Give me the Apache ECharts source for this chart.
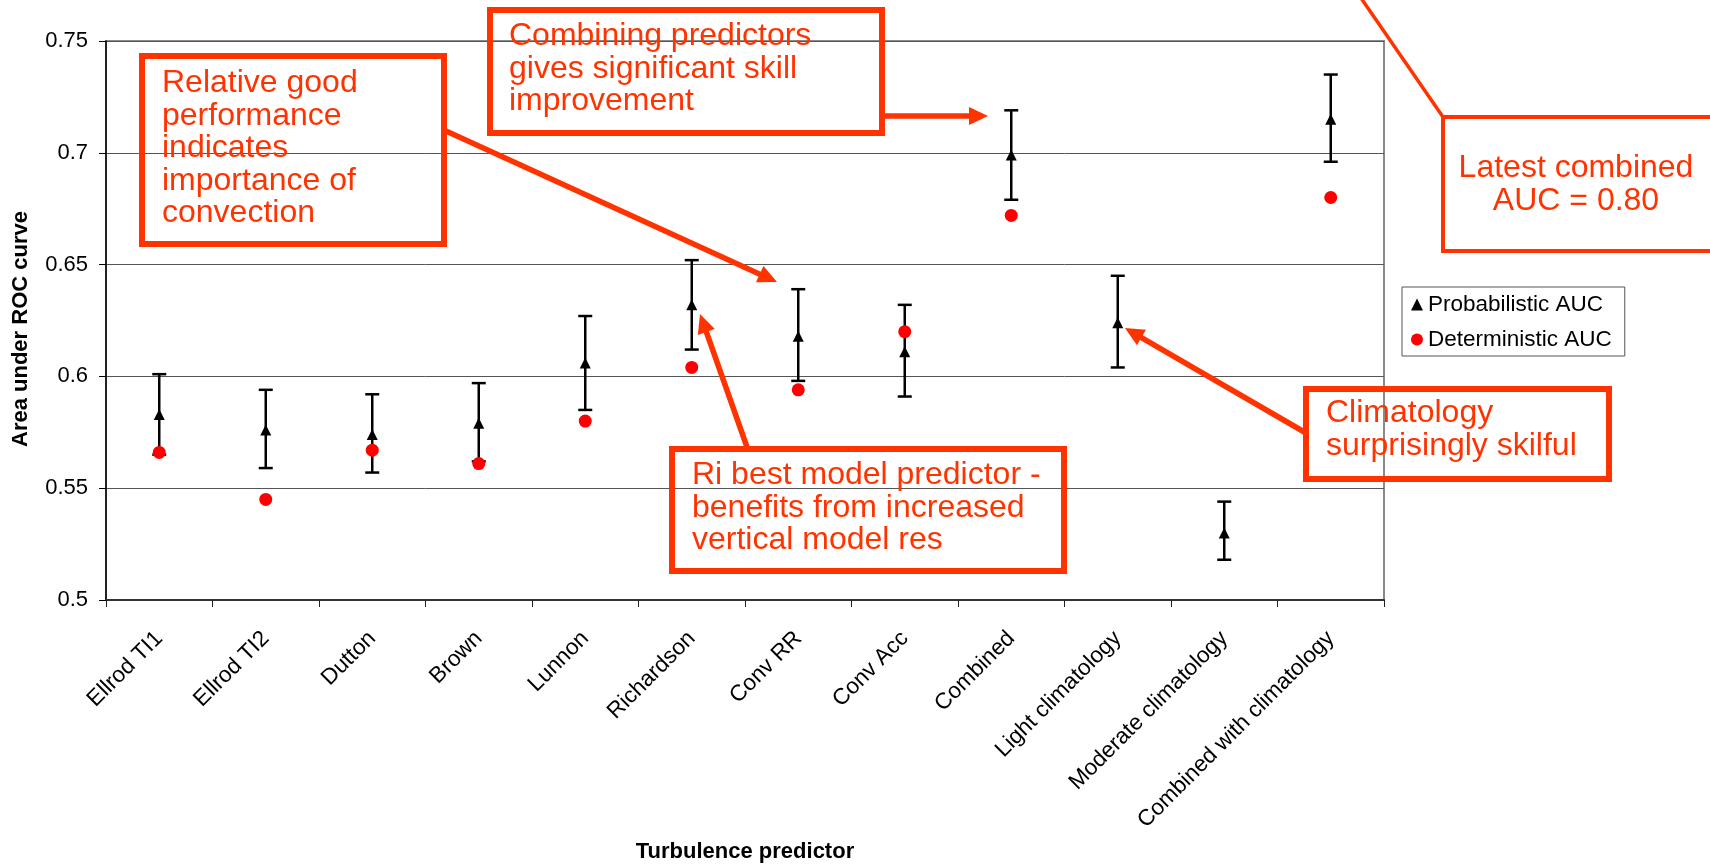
<!DOCTYPE html>
<html>
<head>
<meta charset="utf-8">
<script src="https://cdn.jsdelivr.net/npm/echarts@6/dist/echarts.min.js"></script>
<style>
html,body{margin:0;padding:0;background:#fff;}
#chart{width:1710px;height:865px;}
</style>
</head>
<body>
<div id="chart"></div>
<script>
// ---- data ----
const categories = ['Ellrod TI1','Ellrod TI2','Dutton','Brown','Lunnon','Richardson','Conv RR','Conv Acc','Combined','Light climatology','Moderate climatology','Combined with climatology'];
const probAUC  = [0.583, 0.576, 0.574, 0.579, 0.606, 0.632, 0.618, 0.611, 0.699, 0.624, 0.530, 0.715];
const probLow  = [0.565, 0.559, 0.557, 0.562, 0.585, 0.612, 0.598, 0.591, 0.679, 0.604, 0.518, 0.696];
const probHigh = [0.601, 0.594, 0.592, 0.597, 0.627, 0.652, 0.639, 0.632, 0.719, 0.645, 0.544, 0.735];
const detAUC   = [0.566, 0.545, 0.567, 0.561, 0.580, 0.604, 0.594, 0.620, 0.672, null, null, 0.680];
const yTicks = {min: 0.5, max: 0.75, step: 0.05};

const FONT = '"Liberation Sans", Arial, Helvetica, sans-serif';
const ANN = '#FF3300';

function arrow(x1, y1, x2, y2) {
  const w = 5.5, headLen = 19, headHalf = 9;
  const dx = x2 - x1, dy = y2 - y1, L = Math.hypot(dx, dy);
  const ux = dx / L, uy = dy / L, px = -uy, py = ux;
  const bx = x2 - ux * headLen, by = y2 - uy * headLen;
  return [
    {type: 'line', z: 100, shape: {x1: x1, y1: y1, x2: bx + ux * 2, y2: by + uy * 2}, style: {stroke: ANN, lineWidth: w}},
    {type: 'polygon', z: 100, shape: {points: [[x2, y2], [bx + px * headHalf, by + py * headHalf], [bx - px * headHalf, by - py * headHalf]]}, style: {fill: ANN}}
  ];
}
function box(x, y, w, h, lw) {
  return {type: 'rect', z: 100, shape: {x: x, y: y, width: w, height: h}, style: {fill: 'none', stroke: ANN, lineWidth: lw}};
}
function label(x, y, text, align) {
  return {type: 'text', z: 101, x: x, y: y, style: {text: text, fill: ANN, fontSize: 32, fontFamily: FONT, lineHeight: 32.5, align: align || 'left', verticalAlign: 'top'}};
}

const chart = echarts.init(document.getElementById('chart'), null, {renderer: 'canvas'});
const option = {
  animation: false,
  backgroundColor: '#fff',
  textStyle: {fontFamily: FONT},
  grid: {left: 106, right: 326, top: 41, bottom: 265, show: true, borderColor: '#8a8a8a', borderWidth: 2, containLabel: false, outerBoundsMode: 'none'},
  legend: {
    orient: 'vertical', left: 1402, top: 287,
    padding: [6, 13, 5, 9], itemGap: 12, itemWidth: 12, itemHeight: 12,
    borderColor: '#555', borderWidth: 1, backgroundColor: '#fff',
    textStyle: {fontSize: 22.5, color: '#000', fontFamily: FONT},
    data: ['Probabilistic AUC', 'Deterministic AUC']
  },
  xAxis: {
    type: 'category', data: categories, boundaryGap: true,
    axisLine: {lineStyle: {color: '#333', width: 2}},
    axisTick: {show: true, length: 7, alignWithLabel: false, lineStyle: {color: '#222', width: 1}},
    axisLabel: {interval: 0, rotate: 45, margin: 35, fontSize: 22.5, color: '#000', fontFamily: FONT, hideOverlap: false},
    splitLine: {show: false}
  },
  yAxis: {
    type: 'value', min: yTicks.min, max: yTicks.max, interval: yTicks.step,
    axisLine: {show: true, lineStyle: {color: '#000', width: 1.5}},
    axisTick: {show: true, length: 7, lineStyle: {color: '#000', width: 1}},
    axisLabel: {margin: 18, fontSize: 22, color: '#000', fontFamily: FONT},
    splitLine: {show: true, lineStyle: {color: '#555', width: 1}}
  },
  series: [
    {
      type: 'custom', name: 'range', z: 2, silent: true,
      data: categories.map((c, i) => [i, probLow[i], probHigh[i]]),
      encode: {x: 0, y: [1, 2]},
      renderItem: function (params, api) {
        const i = api.value(0);
        const lo = api.coord([i, api.value(1)]);
        const hi = api.coord([i, api.value(2)]);
        const hw = 7;
        const st = {stroke: '#000', lineWidth: 2.5};
        return {type: 'group', children: [
          {type: 'line', shape: {x1: lo[0], y1: lo[1], x2: hi[0], y2: hi[1]}, style: st},
          {type: 'line', shape: {x1: hi[0] - hw, y1: hi[1], x2: hi[0] + hw, y2: hi[1]}, style: st},
          {type: 'line', shape: {x1: lo[0] - hw, y1: lo[1], x2: lo[0] + hw, y2: lo[1]}, style: st}
        ]};
      }
    },
    {
      type: 'scatter', name: 'Probabilistic AUC', z: 3,
      symbol: 'triangle', symbolSize: [11, 11],
      itemStyle: {color: '#000', opacity: 1},
      data: probAUC
    },
    {
      type: 'scatter', name: 'Deterministic AUC', z: 4,
      symbol: 'circle', symbolSize: 13,
      itemStyle: {color: '#FF0000', opacity: 1},
      data: detAUC.map(v => v == null ? '-' : v)
    }
  ],
  graphic: [
    {type: 'text', z: 50, x: 21, y: 329, rotation: Math.PI / 2,
     style: {text: 'Area under ROC curve', fill: '#000', fontSize: 22, fontWeight: 'bold', fontFamily: FONT, align: 'center', verticalAlign: 'middle'}},
    {type: 'text', z: 50, x: 745, y: 852,
     style: {text: 'Turbulence predictor', fill: '#000', fontSize: 22, fontWeight: 'bold', fontFamily: FONT, align: 'center', verticalAlign: 'middle'}},

    box(142, 56, 302, 188, 6),
    label(162, 67, 'Relative good\nperformance\nindicates\nimportance of\nconvection'),
    box(490, 10, 392, 123, 6),
    label(509, 20, 'Combining predictors\ngives significant skill\nimprovement'),
    box(672, 449, 392, 122, 6),
    label(692, 459, 'Ri best model predictor -\nbenefits from increased\nvertical model res'),
    box(1306, 389, 303, 90, 6),
    label(1326, 397, 'Climatology\nsurprisingly skilful'),
    box(1443, 117, 320, 134, 4),
    label(1576, 152, 'Latest combined\nAUC = 0.80', 'center'),
    {type: 'line', z: 100, shape: {x1: 1443, y1: 117, x2: 1361, y2: -2}, style: {stroke: ANN, lineWidth: 3.5}},
    ...arrow(446, 131, 777, 282),
    ...arrow(885, 116, 988, 116),
    ...arrow(747, 447, 700, 314),
    ...arrow(1306, 433, 1125, 328)
  ]
};
chart.setOption(option);
</script>
</body>
</html>
